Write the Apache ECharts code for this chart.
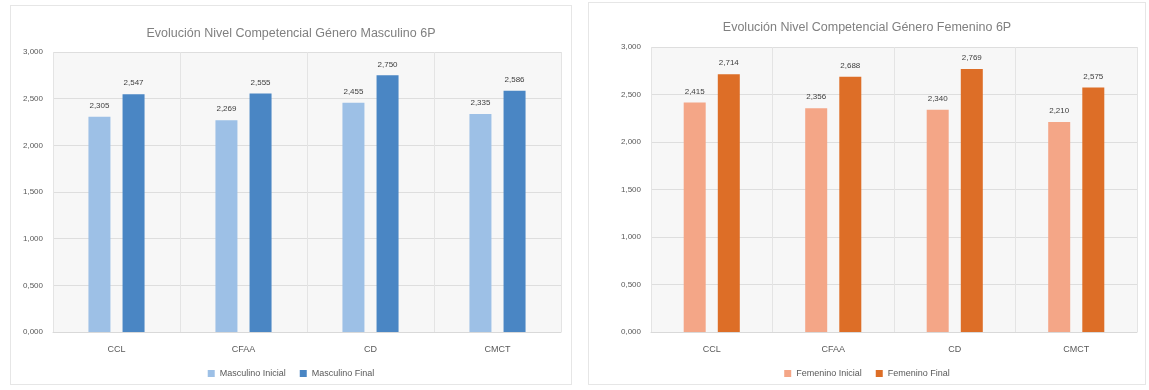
<!DOCTYPE html>
<html>
<head>
<meta charset="utf-8">
<script src="https://cdn.jsdelivr.net/npm/echarts@6/dist/echarts.min.js"></script>
<style>
  body { margin: 0; background: #ffffff; }
  .panel { position: absolute; top: 5px; height: 380px; border: 1px solid #e6e6e6; box-sizing: border-box; }
  #left { left: 10px; width: 562px; }
  #right { left: 588px; width: 558px; top: 2px; height: 383px; }
</style>
</head>
<body>
<div id="left" class="panel"></div>
<div id="right" class="panel"></div>
<script>
const categories = ['CCL', 'CFAA', 'CD', 'CMCT']
const yTicks = [0, 0.5, 1, 1.5, 2, 2.5, 3]

const masculinoInicial = [2.305, 2.269, 2.455, 2.335]
const masculinoFinal = [2.547, 2.555, 2.750, 2.586]
const femeninoInicial = [2.415, 2.356, 2.340, 2.210]
const femeninoFinal = [2.714, 2.688, 2.769, 2.575]

const fmt = v => Number(v).toFixed(3).replace('.', ',')

const buildOption = (title, names, data, colors, grid, titleTop) => ({
  textStyle: { fontFamily: 'Liberation Sans, Arial, sans-serif' },
  color: colors,
  title: {
    text: title,
    left: 'center',
    top: titleTop,
    textStyle: { fontSize: 12.5, fontWeight: 'normal', color: '#808080' }
  },
  legend: {
    bottom: 1,
    left: 'center',
    itemWidth: 7,
    itemHeight: 7,
    itemGap: 14,
    icon: 'rect',
    textStyle: { fontSize: 9, color: '#595959' },
    data: names
  },
  grid: Object.assign({ backgroundColor: '#f7f7f7', show: true, borderWidth: 0 }, grid),
  xAxis: {
    type: 'category',
    data: categories,
    axisLine: { lineStyle: { color: '#d9d9d9' } },
    axisTick: { show: false },
    axisLabel: { fontSize: 9, color: '#595959', margin: 13 },
    splitLine: { show: true, lineStyle: { color: '#e4e4e4' } }
  },
  yAxis: {
    type: 'value',
    min: yTicks[0],
    max: yTicks[yTicks.length - 1],
    interval: 0.5,
    axisLine: { show: false },
    axisTick: { show: false },
    axisLabel: { fontSize: 8, color: '#595959', formatter: fmt, margin: 10 },
    splitLine: { lineStyle: { color: '#dedede' } }
  },
  series: names.map((name, i) => ({
    name,
    type: 'bar',
    data: data[i],
    barWidth: 22,
    barGap: '55%',
    label: {
      show: true,
      position: 'top',
      distance: 7,
      fontSize: 8,
      color: '#404040',
      formatter: p => fmt(p.value)
    }
  }))
})

const leftChart = echarts.init(document.getElementById('left'))
leftChart.setOption(buildOption(
  'Evolución Nivel Competencial Género Masculino 6P',
  ['Masculino Inicial', 'Masculino Final'],
  [masculinoInicial, masculinoFinal],
  ['#9dc0e6', '#4a86c4'],
  { left: 42, right: 10, top: 46, bottom: 52 },
  16
))

const rightChart = echarts.init(document.getElementById('right'))
rightChart.setOption(buildOption(
  'Evolución Nivel Competencial Género Femenino 6P',
  ['Femenino Inicial', 'Femenino Final'],
  [femeninoInicial, femeninoFinal],
  ['#f4a687', '#dd6e27'],
  { left: 62, right: 8, top: 44, bottom: 52 },
  13
))
</script>
</body>
</html>
